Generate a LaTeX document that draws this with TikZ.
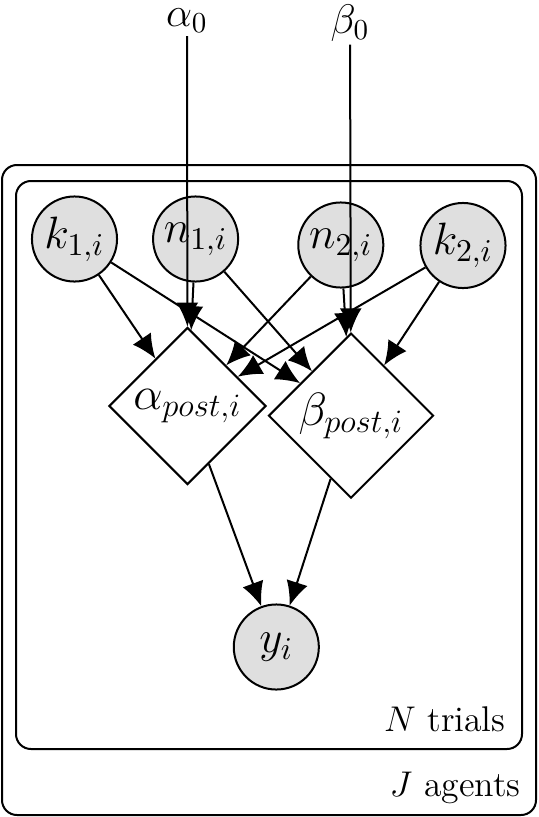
\RequirePackage{fix-cm}
\documentclass[tikz,border=0pt]{standalone}
\usepackage{amsmath}
\usetikzlibrary{arrows.meta,shapes.geometric}

\tikzset{
  obsnode/.style={circle, draw, fill=gray!25, line width=0.75pt, minimum size=31.9pt, inner sep=0pt, font=\fontsize{17}{20}\selectfont},
  detnode/.style={diamond, draw, fill=white, line width=0.75pt, inner sep=0pt, font=\fontsize{17.5}{20}\selectfont},
  hypnode/.style={inner sep=1pt, font=\fontsize{15.5}{18}\selectfont},
  arrowedge/.style={-{Latex[length=9pt,width=8.2pt]}, line width=0.75pt},
  plate/.style={draw, rounded corners=5.6pt, line width=0.75pt},
  platelabel/.style={anchor=base east, inner sep=0pt, font=\fontsize{13.4}{16}\selectfont}
}

\begin{document}
\begin{tikzpicture}[x=0.375pt, y=-0.375pt]
    \useasboundingbox (0,0) rectangle (538,817);

    % Plates
    \draw[plate] (2,165) rectangle (536,815);
    \draw[plate] (16,181) rectangle (522,749);
    \node[platelabel] (trials) at (506,731) {$N$ trials};
    \node[platelabel] (agents) at (521,796) {$J$ agents};

    % Hyperparameters
    \node[hypnode] (a0) at (187,21) {$\alpha_0$};
    \node[hypnode] (b0) at (350,23) {$\beta_0$};

    % Observed counts
    \node[obsnode] (k1) at (74.5,239) {$k_{1,i}$};
    \node[obsnode] (n1) at (195.6,239) {$n_{1,i}$};
    \node[obsnode] (n2) at (340.8,245) {$n_{2,i}$};
    \node[obsnode] (k2) at (463,245.5) {$k_{2,i}$};

    % Posterior parameters
    \node[detnode, minimum width=58.9pt, minimum height=58.9pt] (apost) at (187.5,406) {$\alpha_{post,i}$};
    \node[detnode, minimum width=61.9pt, minimum height=61.9pt] (bpost) at (351,415.7) {$\beta_{post,i}$};

    % Choice
    \node[obsnode] (y) at (276.3,647) {$y_i$};

    % Edges
    \draw[arrowedge] (a0) -- (apost);
    \draw[arrowedge] (b0) -- (bpost);
    \foreach \src in {k1,n1,n2,k2} {
        \draw[arrowedge] (\src) -- (apost);
        \draw[arrowedge] (\src) -- (bpost);
    }
    \draw[arrowedge] (apost) -- (y);
    \draw[arrowedge] (bpost) -- (y);
\end{tikzpicture}
\end{document}
